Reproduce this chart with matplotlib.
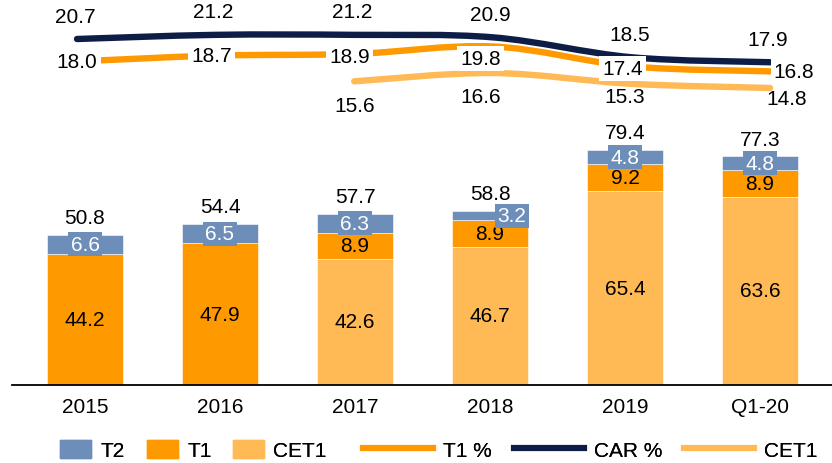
import numpy as np
import matplotlib
matplotlib.use('Agg')
import matplotlib.pyplot as plt
from matplotlib.path import Path
from matplotlib.patches import PathPatch, Patch
from matplotlib.lines import Line2D

plt.rcParams['font.family'] = ['Liberation Sans', 'DejaVu Sans']

# Data
periods = ['2015', '2016', '2017', '2018', '2019', 'Q1-20']
cet1 = [0, 0, 42.6, 46.7, 65.4, 63.6]
t1 = [44.2, 47.9, 8.9, 8.9, 9.2, 8.9]
t2 = [6.6, 6.5, 6.3, 3.2, 4.8, 4.8]
totals = [50.8, 54.4, 57.7, 58.8, 79.4, 77.3]
car_pct = [20.7, 21.2, 21.2, 20.9, 18.5, 17.9]
t1_pct = [18.0, 18.7, 18.9, 19.8, 17.4, 16.8]
cet1_pct = [np.nan, np.nan, 15.6, 16.6, 15.3, 14.8]

# Colours
c_t2 = '#6E8EBA'
c_t1 = '#FF9900'
c_cet1 = '#FFB955'
c_car = '#0E1D45'

PX = 0.72  # pixels -> points at dpi 100


def smooth_path(xs, ys):
    # Excel-style smoothed line: Catmull-Rom segments as cubic beziers
    pts = np.column_stack([xs, ys])
    verts = [pts[0]]
    codes = [Path.MOVETO]
    n = len(pts)
    for i in range(n - 1):
        p0 = pts[i - 1] if i > 0 else pts[i]
        p1 = pts[i]
        p2 = pts[i + 1]
        p3 = pts[i + 2] if i + 2 < n else pts[i + 1]
        verts += [p1 + (p2 - p0) / 6, p2 - (p3 - p1) / 6, p2]
        codes += [Path.CURVE4] * 3
    return Path(verts, codes)


fig = plt.figure(figsize=(8.32, 4.64), dpi=100)
ax = fig.add_axes([12 / 832, 78 / 464, 820 / 832, 386 / 464])
ax2 = fig.add_axes(ax.get_position(), frameon=False)

x = np.arange(len(periods))
cet1 = np.array(cet1)
t1 = np.array(t1)
t2 = np.array(t2)

w = 0.56
ax.bar(x, cet1, w, color=c_cet1, edgecolor='white', linewidth=0.4, zorder=2)
ax.bar(x, t1, w, bottom=cet1, color=c_t1, edgecolor='white', linewidth=0.4, zorder=2)
ax.bar(x, t2, w, bottom=cet1 + t1, color=c_t2, edgecolor='white', linewidth=0.4, zorder=2)

ax.set_xlim(-73 / 135, 747 / 135)
ax.set_ylim(0, 386 / 2.96)

fs = 15
for i in range(len(periods)):
    if cet1[i] > 0:
        ax.text(x[i], cet1[i] / 2, f'{cet1[i]:.1f}', ha='center', va='center', fontsize=fs, zorder=5)
    ax.text(x[i], cet1[i] + t1[i] / 2, f'{t1[i]:.1f}', ha='center', va='center', fontsize=fs, zorder=5)
    dx = 22 * PX if periods[i] == '2018' else 0
    ax.annotate(f'{t2[i]:.1f}', (x[i], cet1[i] + t1[i] + t2[i] / 2), xytext=(dx, 0),
                textcoords='offset points', ha='center', va='center', fontsize=fs, color='white',
                bbox=dict(boxstyle='square,pad=0.12', fc=c_t2, ec='none'), zorder=5)
    ax.annotate(f'{totals[i]:.1f}', (x[i], cet1[i] + t1[i] + t2[i]), xytext=(0, 17 * PX),
                textcoords='offset points', ha='center', va='center', fontsize=fs, zorder=5)

ax.set_xticks(x)
ax.set_xticklabels(periods, fontsize=15)
ax.tick_params(axis='x', length=0, pad=9)
ax.set_yticks([])
for s in ['top', 'right', 'left']:
    ax.spines[s].set_visible(False)
ax.spines['bottom'].set_linewidth(1.3)

# ratio lines on their own hidden axis
ax2.set_xlim(-65 / 138.6, 5 + 62 / 138.6)
ax2.set_ylim(20.7 - 346 / 8.3, 20.7 + 40 / 8.3)
ax2.set_xticks([])
ax2.set_yticks([])

lw = 4.6
for vals, col in [(cet1_pct, c_cet1), (t1_pct, c_t1), (car_pct, c_car)]:
    vals = np.array(vals, dtype=float)
    ok = ~np.isnan(vals)
    ax2.add_patch(PathPatch(smooth_path(x[ok], vals[ok]), fill=False, edgecolor=col,
                            lw=lw, capstyle='round', joinstyle='round', zorder=3))

# label offsets in pixels (dx, dy), dy positive = down
t1_off = [(0, 0), (-4, 0), (-5, 3), (-12, 12), (-9, 2), (24, 0)]
cet1_off = [None, None, (0, 24), (-12, 23), (-7, 13), (17, 11)]
for i in range(len(periods)):
    ax2.annotate(f'{car_pct[i]:.1f}', (x[i], car_pct[i]), xytext=(-2 * PX, 23 * PX),
                 textcoords='offset points', ha='center', va='center', fontsize=fs, zorder=6)
    dx, dy = t1_off[i]
    ax2.annotate(f'{t1_pct[i]:.1f}', (x[i], t1_pct[i]), xytext=(dx * PX, -dy * PX),
                 textcoords='offset points', ha='center', va='center', fontsize=fs, zorder=6,
                 bbox=dict(boxstyle='square,pad=0.15', fc='white', ec='none'))
    if cet1_off[i] is not None:
        dx, dy = cet1_off[i]
        ax2.annotate(f'{cet1_pct[i]:.1f}', (x[i], cet1_pct[i]), xytext=(dx * PX, -dy * PX),
                     textcoords='offset points', ha='center', va='center', fontsize=fs, zorder=6)

# legend, one entry at a time so each sits where it does in the original
legend_items = [
    (Patch(color=c_t2), 'T2', 60),
    (Patch(color=c_t1), 'T1', 147),
    (Patch(color=c_cet1), 'CET1', 233),
    (Line2D([], [], color=c_t1, lw=4.4), 'T1 %', 363),
    (Line2D([], [], color=c_car, lw=4.4), 'CAR %', 514),
    (Line2D([], [], color=c_cet1, lw=4.4), 'CET1', 684),
]
for handle, label, left in legend_items:
    is_patch = isinstance(handle, Patch)
    leg = fig.legend([handle], [label], loc='center left',
                     bbox_to_anchor=(left / 832, 1 - 451 / 464), frameon=False,
                     fontsize=15, borderpad=0, borderaxespad=0,
                     handlelength=1.49 if is_patch else 3.37,
                     handleheight=1.0, handletextpad=0.45)
    fig.add_artist(leg)

fig.savefig('out.png', dpi=100)
